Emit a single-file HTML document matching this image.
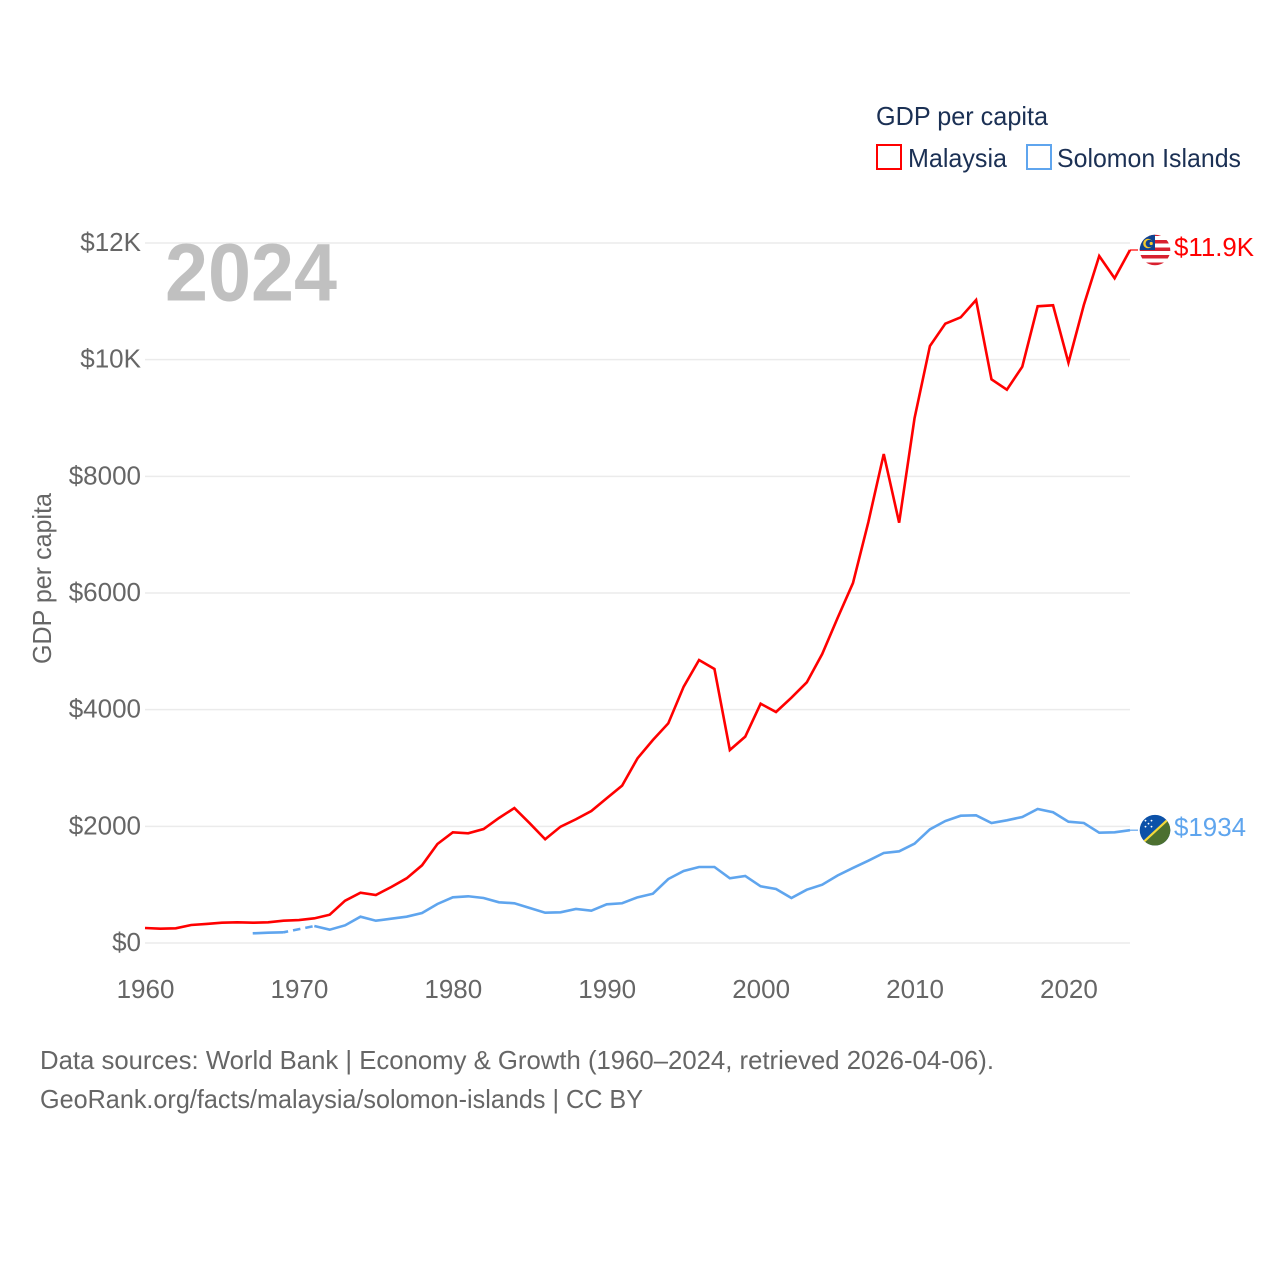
<!DOCTYPE html>
<html lang="en">
<head>
<meta charset="utf-8">
<title>GDP per capita: Malaysia and Solomon Islands</title>
<style>
html,body{margin:0;padding:0;background:#fff;width:1280px;height:1280px;overflow:hidden}
svg{display:block}
text{font-family:"Liberation Sans",sans-serif}
</style>
</head>
<body>
<svg id="chart" xmlns="http://www.w3.org/2000/svg" width="1280" height="1280" viewBox="0 0 1280 1280">
  <defs>
    <clipPath id="flag-clip"><circle cx="0" cy="0" r="15.3"/></clipPath>
  </defs>
  <rect x="0" y="0" width="1280" height="1280" fill="#fff"/>
  <g id="grid"></g>
  <g id="yticks"></g>
  <g id="xticks"></g>
  <text transform="translate(51,578.5) rotate(-90)" text-anchor="middle" font-size="26" fill="#666" textLength="171" lengthAdjust="spacingAndGlyphs">GDP per capita</text>
  <text x="165" y="300.7" font-size="82" font-weight="700" fill="#c0c0c0" textLength="172" lengthAdjust="spacingAndGlyphs">2024</text>
  <g id="series"></g>

  <g id="flag-malaysia">
    <g clip-path="url(#flag-clip)">
      <rect x="-16" y="-16" width="32" height="32" fill="#fff"/>
      <rect x="-16" y="-17.5" width="32" height="3.5" fill="#d8202f"/>
      <rect x="-16" y="-10" width="32" height="3.5" fill="#d8202f"/>
      <rect x="-16" y="-2.5" width="32" height="3.5" fill="#d8202f"/>
      <rect x="-16" y="5" width="32" height="3.5" fill="#d8202f"/>
      <rect x="-16" y="12.5" width="32" height="3.5" fill="#d8202f"/>
      <rect x="-16" y="-16" width="16" height="16" fill="#10428f"/>
      <circle cx="-7" cy="-6.5" r="4.8" fill="#f6c92b"/>
      <circle cx="-5.6" cy="-6.5" r="3.8" fill="#10428f"/>
      <circle cx="-3.8" cy="-6.5" r="1.6" fill="#f6c92b"/>
    </g>
  </g>

  <g id="flag-solomon">
    <g clip-path="url(#flag-clip)">
      <rect x="-16" y="-16" width="32" height="32" fill="#0c51a8"/>
      <polygon points="17,-14.5 17,17 -17,17" fill="#4c7030"/>
      <line x1="-17" y1="17" x2="17" y2="-14.5" stroke="#f4d93a" stroke-width="2.2"/>
      <circle cx="-9.5" cy="-9.5" r="0.9" fill="#fff"/>
      <circle cx="-3.5" cy="-9.5" r="0.9" fill="#fff"/>
      <circle cx="-6.5" cy="-6.5" r="0.9" fill="#fff"/>
      <circle cx="-9.5" cy="-3.5" r="0.9" fill="#fff"/>
      <circle cx="-3.5" cy="-3.5" r="0.9" fill="#fff"/>
    </g>
  </g>

  <g id="end-labels"></g>

  <g>
    <text x="876" y="125" font-size="26" fill="#1b3054" textLength="172" lengthAdjust="spacingAndGlyphs">GDP per capita</text>
    <g>
      <rect x="877" y="145" width="24" height="24" fill="#fff" stroke="#ff0000" stroke-width="2"/>
      <text x="908" y="167" font-size="26" fill="#1b3054" textLength="99" lengthAdjust="spacingAndGlyphs">Malaysia</text>
    </g>
    <g>
      <rect x="1027" y="145" width="24" height="24" fill="#fff" stroke="#5fa5ee" stroke-width="2"/>
      <text x="1057" y="167" font-size="26" fill="#1b3054" textLength="184" lengthAdjust="spacingAndGlyphs">Solomon Islands</text>
    </g>
  </g>

  <g>
    <text x="40" y="1069" font-size="26" fill="#666" textLength="954" lengthAdjust="spacingAndGlyphs">Data sources: World Bank | Economy &amp; Growth (1960–2024, retrieved 2026-04-06).</text>
    <text x="40" y="1108" font-size="26" fill="#666" textLength="603" lengthAdjust="spacingAndGlyphs">GeoRank.org/facts/malaysia/solomon-islands | CC BY</text>
  </g>
</svg>

<script>
const firstYear = 1960;
const xTickYears = [1960, 1970, 1980, 1990, 2000, 2010, 2020];
const yTickValues = [0, 2000, 4000, 6000, 8000, 10000, 12000];
const yTickLabels = ["$0", "$2000", "$4000", "$6000", "$8000", "$10K", "$12K"];
const malaysiaName = "Malaysia";
const solomonName = "Solomon Islands";
const malaysiaEndLabel = "$11.9K";
const solomonEndLabel = "$1934";
const malaysiaValues = [
  257, 245, 252, 309, 326, 348, 355, 348, 355, 382,
  394, 423, 485, 725, 862, 823, 960, 1109, 1332, 1697,
  1898, 1881, 1954, 2143, 2314, 2052, 1778, 1994, 2121, 2263,
  2481, 2697, 3166, 3480, 3766, 4394, 4851, 4697, 3309, 3537,
  4102, 3960, 4205, 4469, 4954, 5571, 6171, 7217, 8383, 7205,
  8995, 10234, 10617, 10726, 11023, 9663, 9485, 9880, 10915, 10932,
  9948, 10937, 11777, 11395, 11880
];
const solomonValues = [
  null, null, null, null, null, null, null, 166, 177, 183,
  null, 291, 228, 303, 451, 382, 417, 451, 514, 669,
  783, 801, 771, 698, 681, 600, 519, 526, 583, 554,
  663, 681, 783, 845, 1097, 1234, 1303, 1303, 1109, 1149,
  972, 926, 771, 914, 999, 1157, 1286, 1411, 1543, 1572,
  1702, 1949, 2091, 2182, 2189, 2057, 2103, 2160, 2297, 2241,
  2079, 2057, 1891, 1898, 1934
];

const NS = "http://www.w3.org/2000/svg";
const plotLeft = 145, plotRight = 1130, plotTop = 243, plotBottom = 943;
const lastYear = firstYear + malaysiaValues.length - 1;
const maxValue = yTickValues[yTickValues.length - 1];

function xScale(year) {
  return plotLeft + (year - firstYear) * (plotRight - plotLeft) / (lastYear - firstYear);
}
function yScale(value) {
  return plotBottom - value * (plotBottom - plotTop) / maxValue;
}
function make(tag, parentId) {
  const el = document.createElementNS(NS, tag);
  document.getElementById(parentId).appendChild(el);
  return el;
}
function setAll(el, attrs) {
  for (const key in attrs) el.setAttribute(key, attrs[key]);
}

yTickValues.forEach(function (value, i) {
  const line = make("line", "grid");
  
  
  setAll(line, { x1: plotLeft, x2: plotRight, y1: yScale(value), y2: yScale(value), stroke: "#ebebeb", "stroke-width": 1.5 });

  const label = make("text", "yticks");
  
  
  setAll(label, { x: 141, y: yScale(value) + 8, "text-anchor": "end", "font-size": 26, fill: "#666" });
  label.textContent = yTickLabels[i];
});

xTickYears.forEach(function (year) {
  const label = make("text", "xticks");
  
  
  setAll(label, { x: xScale(year) + 0.5, y: 998, "text-anchor": "middle", "font-size": 26, fill: "#666" });
  label.textContent = String(year);
});

function drawSeries(values, color, seriesKey) {
  const points = [];
  values.forEach(function (value, i) {
    if (value !== null) points.push({ year: firstYear + i, value: value });
  });
  let run = [];
  function flush() {
    if (run.length > 1) {
      const path = make("path", "series");
      
      
      setAll(path, {
        d: "M" + run.map(function (p) { return xScale(p.year).toFixed(2) + "," + yScale(p.value).toFixed(2); }).join("L"),
        fill: "none", stroke: color, "stroke-width": 2.6, "stroke-linejoin": "miter"
      });
    }
    run = [];
  }
  points.forEach(function (p, i) {
    const prev = points[i - 1];
    if (prev && p.year - prev.year > 1) {
      flush();
      const bridge = make("line", "series");
      
      
      setAll(bridge, {
        x1: xScale(prev.year), y1: yScale(prev.value), x2: xScale(p.year), y2: yScale(p.value),
        stroke: color, "stroke-width": 2.6, "stroke-dasharray": "7.5 5", "stroke-dashoffset": 2.8
      });
    }
    run.push(p);
  });
  flush();

  const last = points[points.length - 1];
  const tail = make("line", "series");
  
  
  setAll(tail, {
    x1: xScale(last.year), y1: yScale(last.value), x2: xScale(last.year) + 8, y2: yScale(last.value),
    stroke: color, "stroke-width": 1.2
  });
  return yScale(last.value);
}

const malaysiaEndY = drawSeries(malaysiaValues, "#ff0000", "malaysia");
const solomonEndY = drawSeries(solomonValues, "#5fa5ee", "solomon-islands");

document.getElementById("flag-malaysia").setAttribute("transform", "translate(1155," + malaysiaEndY + ")");
document.getElementById("flag-solomon").setAttribute("transform", "translate(1155," + solomonEndY + ")");

const malaysiaLabel = make("text", "end-labels");


setAll(malaysiaLabel, { x: 1174, y: malaysiaEndY + 6, "font-size": 26, fill: "#ff0000", textLength: 80, lengthAdjust: "spacingAndGlyphs" });
malaysiaLabel.textContent = malaysiaEndLabel;

const solomonLabel = make("text", "end-labels");


setAll(solomonLabel, { x: 1174, y: solomonEndY + 6, "font-size": 26, fill: "#5fa5ee", textLength: 72, lengthAdjust: "spacingAndGlyphs" });
solomonLabel.textContent = solomonEndLabel;
</script>
</body>
</html>
